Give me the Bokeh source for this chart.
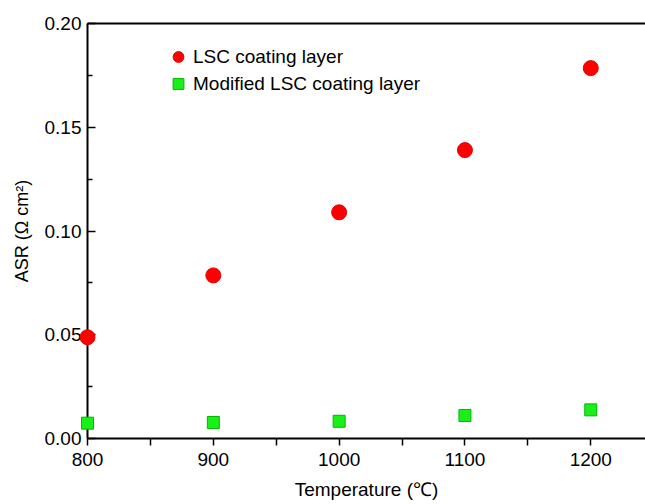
from bokeh.plotting import figure
from bokeh.models import (LinearAxis, FixedTicker, Legend, LegendItem, Range1d,
                          PrintfTickFormatter)
from bokeh.embed import file_html
from bokeh.resources import INLINE

# ---- data ----
temperature = [800, 900, 1000, 1100, 1200]
asr_lsc = [0.0488, 0.0786, 0.109, 0.139, 0.1785]
asr_modified = [0.0074, 0.0077, 0.0083, 0.0111, 0.0138]
series_names = ["LSC coating layer", "Modified LSC coating layer"]
x_major_ticks = [800, 900, 1000, 1100, 1200]
x_minor_ticks = [850, 950, 1050, 1150]
y_major_ticks = [0.0, 0.05, 0.10, 0.15, 0.20]
y_minor_ticks = [0.025, 0.075, 0.125, 0.175]
x_label = "Temperature (℃)"
y_label = "ASR (Ω cm²)"

FONT = "Liberation Sans"

p = figure(width=645, height=504, output_backend="svg", toolbar_location=None,
           x_range=Range1d(800, 1243.5), y_range=Range1d(0, 0.2),
           x_axis_location=None, y_axis_location=None,
           min_border_left=87, min_border_right=0, min_border_top=23, min_border_bottom=66)
p.outline_line_color = None
p.xgrid.visible = False
p.ygrid.visible = False
p.background_fill_color = "white"

# axes
xaxis = LinearAxis(ticker=FixedTicker(ticks=x_major_ticks, minor_ticks=x_minor_ticks))
xaxis.axis_line_width = 2
xaxis.major_tick_in = 0
xaxis.major_tick_out = 7
xaxis.minor_tick_in = 0
xaxis.minor_tick_out = 7
xaxis.major_tick_line_width = 1.5
xaxis.minor_tick_line_width = 1.5
xaxis.major_label_text_font = FONT
xaxis.major_label_text_font_size = "19px"
xaxis.major_label_text_color = "black"
xaxis.major_label_standoff = 7
xaxis.axis_label = x_label
xaxis.axis_label_text_font = FONT
xaxis.axis_label_text_font_size = "19px"
xaxis.axis_label_text_font_style = "normal"
xaxis.axis_label_text_color = "black"
xaxis.axis_label_standoff = 10
p.add_layout(xaxis, "below")

yaxis = LinearAxis(ticker=FixedTicker(ticks=y_major_ticks, minor_ticks=y_minor_ticks),
                   formatter=PrintfTickFormatter(format="%.2f"))
yaxis.axis_line_width = 2
yaxis.major_tick_in = 8
yaxis.major_tick_out = 0
yaxis.minor_tick_in = 5
yaxis.minor_tick_out = 0
yaxis.major_tick_line_width = 1.5
yaxis.minor_tick_line_width = 1.5
yaxis.major_label_text_font = FONT
yaxis.major_label_text_font_size = "19px"
yaxis.major_label_text_color = "black"
yaxis.major_label_standoff = 6
yaxis.axis_label = y_label
yaxis.axis_label_text_font = FONT
yaxis.axis_label_text_font_size = "18px"
yaxis.axis_label_text_font_style = "normal"
yaxis.axis_label_text_color = "black"
yaxis.axis_label_standoff = 10
p.add_layout(yaxis, "left")

top = LinearAxis(ticker=FixedTicker(ticks=[]))
top.axis_line_width = 2
top.major_tick_in = 0
top.major_tick_out = 0
top.minor_tick_in = 0
top.minor_tick_out = 0
p.add_layout(top, "above")

r1 = p.scatter(temperature, asr_lsc, marker="circle", size=15,
               fill_color="#ff0000", line_color="#e60000", line_width=1, level="overlay")
r2 = p.scatter(temperature, asr_modified, marker="square", size=12,
               fill_color="#19f019", line_color="#00b800", line_width=1, level="overlay")

legend = Legend(items=[LegendItem(label=series_names[0], renderers=[r1]),
                       LegendItem(label=series_names[1], renderers=[r2])],
                location=(76, 341))
legend.padding = 0
legend.margin = 0
legend.spacing = 0
legend.glyph_width = 30
legend.glyph_height = 27
legend.label_standoff = 0
legend.label_height = 20
legend.label_text_font = FONT
legend.label_text_font_size = "19px"
legend.label_text_color = "black"
legend.border_line_color = None
legend.background_fill_alpha = 0
p.add_layout(legend, "center")

open("out.html", "w").write(file_html(p, INLINE))
